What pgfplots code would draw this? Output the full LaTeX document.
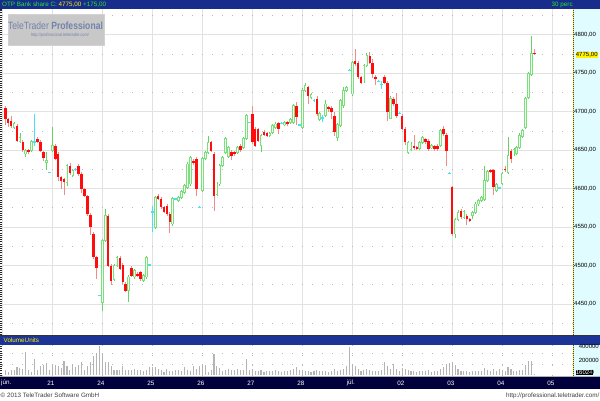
\documentclass[border=0pt]{standalone}
\usepackage{pgfplots}
\pgfplotsset{compat=1.18}
\usepackage{pgfplotstable}
\usepackage{fontspec}
\setmainfont{Liberation Sans}
\newcommand{\sm}{\fontsize{6.3}{7}\selectfont}
\newcommand{\tk}{\fontsize{6.0}{7}\selectfont}
\definecolor{tbar}{RGB}{24,44,140}
\definecolor{vbar}{RGB}{28,52,150}
\definecolor{dbar}{RGB}{0,0,60}
\definecolor{rbg}{RGB}{224,252,255}
\definecolor{candred}{RGB}{255,12,12}
\definecolor{wickred}{RGB}{240,140,140}
\definecolor{candgreen}{RGB}{125,222,125}
\definecolor{wickgreen}{RGB}{100,210,100}
\definecolor{ginner}{RGB}{240,255,240}
\definecolor{doji}{RGB}{70,225,245}
\definecolor{ttgreen}{RGB}{40,235,40}
\definecolor{wmfill}{RGB}{200,200,200}
\definecolor{wmtext}{RGB}{115,130,170}
\definecolor{gridc}{RGB}{226,226,226}
\definecolor{volc}{RGB}{180,180,180}

\pgfplotsset{candle/.style={draw=none, mark=none, forget plot,
  error bars/.cd, y dir=both, y explicit, error mark=none}}

\pgfplotstableread{
k o h l c
1 4705 4707 4683 4690
2 4690 4692 4680 4685
3 4688 4694 4679 4681
5 4682 4684 4660 4662
7 4661 4663 4648 4650
9 4650 4652 4645 4648
12 4665 4667 4659 4661
13 4661 4663 4647 4649
14 4647 4649 4636 4640
18 4656 4658 4637 4639
19 4645 4647 4610 4615
20 4615 4617 4600 4610
21 4612 4614 4592 4609
23 4630 4633 4618 4620
26 4630 4632 4617 4619
27 4619 4621 4594 4599
28 4599 4601 4589 4591
29 4590 4592 4565 4567
30 4566 4568 4540 4550
31 4541 4543 4509 4511
32 4511 4513 4482 4497
36 4565 4567 4498 4500
37 4500 4502 4475 4480
40 4510 4512 4494 4496
41 4501 4503 4476 4478
42 4476 4478 4465 4467
44 4497 4499 4485 4487
46 4489 4491 4485 4487
47 4491 4493 4480 4482
53 4591 4593 4585 4587
54 4587 4589 4574 4576
55 4576 4578 4568 4570
56 4578 4580 4565 4567
57 4567 4569 4542 4556
65 4636 4638 4631 4633
66 4639 4641 4590 4600
71 4660 4662 4647 4649
72 4645 4647 4571 4591
78 4648 4650 4637 4642
79 4647 4649 4643 4645
81 4656 4658 4648 4650
85 4697 4708 4658 4660
86 4678 4680 4654 4656
87 4677 4679 4660 4662
89 4674 4676 4668 4670
90 4672 4674 4667 4669
94 4685 4687 4671 4678
97 4686 4688 4682 4684
100 4708 4713 4683 4693
104 4732 4734 4710 4721
107 4717 4720 4694 4697
111 4706 4708 4700 4703
112 4705 4708 4690 4700
113 4695 4700 4668 4673
120 4766 4781 4760 4762
121 4764 4766 4742 4745
122 4745 4747 4736 4738
125 4773 4778 4762 4764
126 4764 4768 4744 4749
127 4745 4748 4735 4742
130 4745 4748 4736 4738
131 4738 4740 4688 4699
133 4717 4719 4708 4710
134 4710 4725 4692 4695
136 4695 4697 4676 4678
137 4678 4680 4657 4660
140 4656 4670 4650 4653
141 4654 4656 4650 4652
144 4664 4666 4658 4660
145 4662 4664 4649 4651
147 4655 4657 4649 4651
148 4656 4658 4649 4651
150 4677 4681 4669 4671
151 4670 4672 4630 4649
153 4602 4603 4538 4541
156 4571 4574 4561 4563
158 4565 4567 4553 4560
159 4560 4562 4556 4558
166 4624 4626 4620 4622
167 4624 4626 4592 4602
171 4626 4630 4622 4624
173 4649 4651 4633 4639
181 4777 4781 4774 4775
}\redtab

\pgfplotstableread{
k o h l c
4 4680 4687 4678 4685
6 4661 4672 4659 4667
8 4645 4651 4641 4649
10 4649 4663 4647 4661
15 4634 4647 4624 4637
17 4649 4680 4647 4656
22 4608 4632 4604 4630
24 4617 4625 4615 4623
34 4452 4534 4441 4532
35 4532 4573 4530 4565
38 4482 4502 4480 4500
39 4500 4513 4498 4511
43 4467 4487 4452 4485
45 4485 4495 4483 4493
48 4480 4489 4478 4487
49 4485 4512 4483 4510
52 4550 4590 4548 4588
58 4554 4589 4552 4587
60 4585 4591 4583 4589
61 4588 4598 4586 4596
62 4595 4606 4593 4604
63 4602 4634 4600 4632
64 4606 4643 4604 4641
68 4597 4641 4595 4639
69 4639 4649 4637 4647
70 4647 4668 4645 4660
73 4592 4608 4590 4606
74 4606 4632 4604 4630
75 4630 4643 4628 4641
76 4647 4667 4645 4665
77 4642 4655 4640 4653
80 4647 4655 4645 4653
82 4654 4667 4652 4665
83 4665 4697 4663 4695
88 4656 4671 4648 4669
91 4669 4674 4667 4672
92 4673 4684 4671 4682
93 4680 4686 4678 4684
96 4683 4688 4681 4686
98 4686 4692 4684 4690
99 4686 4710 4684 4708
102 4680 4731 4677 4728
103 4728 4737 4726 4734
105 4719 4724 4716 4722
108 4690 4700 4688 4698
110 4695 4715 4693 4710
114 4667 4685 4662 4683
115 4682 4716 4680 4714
116 4708 4732 4705 4728
117 4728 4733 4726 4731
119 4723 4766 4720 4764
123 4740 4762 4738 4760
124 4760 4776 4758 4773
132 4691 4720 4690 4717
138 4647 4662 4645 4660
139 4651 4660 4649 4658
142 4652 4662 4650 4660
143 4660 4668 4658 4666
146 4653 4658 4651 4656
149 4656 4678 4654 4675
154 4541 4562 4536 4560
155 4560 4572 4558 4569
157 4562 4572 4560 4570
160 4565 4571 4560 4569
161 4569 4582 4567 4580
162 4580 4587 4578 4585
163 4585 4591 4583 4589
164 4586 4629 4584 4611
165 4610 4624 4608 4622
168 4598 4607 4596 4605
170 4607 4622 4605 4620
172 4621 4667 4619 4643
174 4645 4653 4643 4651
175 4646 4656 4644 4654
176 4654 4672 4652 4669
177 4668 4677 4666 4675
178 4680 4719 4678 4717
179 4718 4752 4716 4750
180 4749 4799 4747 4776
}\greentab

\pgfplotstableread{
k p h l
11 4661 4697 4655
16 4621 4622 4620
25 4625 4627 4623
33 4461 4462 4460
50 4501 4502 4500
51 4570 4578 4543
59 4587 4588 4586
67 4576 4577 4575
84 4686 4687 4685
95 4685 4686 4684
101 4683 4684 4682
106 4715 4717 4712
109 4692 4696 4686
118 4754 4755 4753
128 4740 4741 4739
129 4736 4740 4730
135 4698 4699 4697
152 4620 4621 4619
169 4601 4602 4600
}\dojitab

\pgfplotstableread{
k v
1 74
2 41
3 65
4 74
5 113
6 103
7 89
8 320
9 65
10 41
11 232
12 74
13 122
14 146
15 170
16 74
17 160
18 136
19 122
20 98
21 199
22 122
23 74
24 160
25 113
26 136
27 184
28 74
29 122
30 184
31 266
32 304
33 410
34 314
35 184
36 184
37 122
38 74
39 74
40 74
41 122
42 74
43 65
44 74
45 89
46 65
47 65
48 55
49 74
50 113
51 113
52 113
53 89
54 65
55 41
56 89
57 50
58 55
59 65
60 65
61 50
62 113
63 74
64 55
65 122
66 89
67 122
68 160
69 136
70 41
71 65
72 295
73 122
74 103
75 55
76 74
77 89
78 65
79 74
80 89
81 74
82 65
83 232
84 74
85 80
86 60
87 50
88 70
89 45
90 60
91 55
92 50
93 70
94 60
95 45
96 55
97 60
98 70
99 90
100 110
101 65
102 70
103 55
104 60
105 45
106 50
107 70
108 50
109 60
110 55
111 45
112 50
113 90
114 60
115 70
116 80
117 120
118 400
119 150
120 120
121 90
122 60
123 70
124 80
125 70
126 50
127 60
128 55
129 70
130 184
131 120
132 90
133 160
134 80
135 60
136 100
137 90
138 70
139 60
140 50
141 45
142 55
143 60
144 50
145 70
146 45
147 50
148 60
149 80
150 110
151 150
152 170
153 180
154 140
155 90
156 60
157 55
158 50
159 45
160 60
161 55
162 60
163 50
164 100
165 70
166 50
167 90
168 60
169 80
170 70
171 60
172 110
173 80
174 60
175 55
176 70
177 65
178 140
179 200
180 200
181 16.024
}\voltab

\begin{document}
\begin{tikzpicture}[x=1pt,y=1pt]
\useasboundingbox (0,0) rectangle (600,400);
\fill[white] (0,0) rectangle (600,400);
% title bar
\fill[tbar] (0,391) rectangle (600,400);
% right axis background, main pane
\fill[rbg] (573,65) rectangle (600,391);
% separator and volume header
\fill[black!80] (0,64) rectangle (600,65.3);
\fill[vbar] (0,55) rectangle (600,64);
% right axis background, volume pane
\fill[rbg] (573,24.3) rectangle (600,55);
% date bar
\fill[gray!60] (0,23.3) rectangle (600,24.3);
\fill[dbar] (0,10.7) rectangle (600,23.3);

% ---------------- main price pane ----------------
\begin{axis}[
  at={(2pt,391pt)}, anchor=north west,
  width=571pt, height=325.7pt, scale only axis,
  xmin=-0.1, xmax=194.1, ymin=4410, ymax=4833.6,
  axis line style={draw=none},
  xtick={0,17,...,187}, xticklabels={},
  ytick={4450,4500,...,4800},
  minor ytick={4425,4475,...,4825},
  major tick length=0pt, minor tick length=0pt,
  xmajorgrids, ymajorgrids, yminorgrids,
  major grid style={draw=gridc, line width=0.8pt},
  minor grid style={draw=gray!55, line width=0.7pt, dash pattern=on 1pt off 9pt},
  yticklabel pos=right,
  yticklabel style={anchor=west, inner sep=0pt, xshift=1pt, font=\tk},
  /pgf/number format/assume math mode=true,
  yticklabel={\pgfmathprintnumber[fixed, fixed zerofill, precision=2, use comma, 1000 sep={}]{\tick}},
]
% wicks
\addplot[candle, error bar style={draw=wickred, line width=0.8pt}]
  table[x=k, y expr={(\thisrow{h}+\thisrow{l})/2}, y error expr={(\thisrow{h}-\thisrow{l})/2}] {\redtab};
\addplot[candle, error bar style={draw=wickgreen, line width=0.8pt}]
  table[x=k, y expr={(\thisrow{h}+\thisrow{l})/2}, y error expr={(\thisrow{h}-\thisrow{l})/2}] {\greentab};
\addplot[candle, error bar style={draw=doji, line width=0.8pt}]
  table[x=k, y expr={(\thisrow{h}+\thisrow{l})/2}, y error expr={(\thisrow{h}-\thisrow{l})/2}] {\dojitab};
% bodies
\addplot[candle, error bar style={draw=candred, line width=2.6pt}]
  table[x=k, y expr={(\thisrow{o}+\thisrow{c})/2}, y error expr={max(abs(\thisrow{o}-\thisrow{c})/2,0.8)}] {\redtab};
\addplot[candle, error bar style={draw=candgreen, line width=2.7pt}]
  table[x=k, y expr={(\thisrow{o}+\thisrow{c})/2}, y error expr={abs(\thisrow{o}-\thisrow{c})/2+0.6}] {\greentab};
\addplot[candle, error bar style={draw=ginner, line width=1.0pt}]
  table[x=k, y expr={(\thisrow{o}+\thisrow{c})/2}, y error expr={max(abs(\thisrow{o}-\thisrow{c})/2-0.6,0)}] {\greentab};
\addplot[candle, error bar style={draw=doji, line width=2.7pt}]
  table[x=k, y=p, y error expr={0.6}] {\dojitab};
\end{axis}

% ---------------- volume pane ----------------
\begin{axis}[
  at={(2pt,55pt)}, anchor=north west,
  width=571pt, height=30.7pt, scale only axis,
  xmin=-0.1, xmax=194.1, ymin=-12000, ymax=424000,
  axis line style={draw=none},
  xtick={0,17,...,187}, xticklabels={},
  ytick={150000,300000}, yticklabels={}, scaled y ticks=false,
  major tick length=0pt,
  xmajorgrids, ymajorgrids,
  major grid style={draw=gray!55, line width=0.7pt, dash pattern=on 1pt off 9pt},
]
\addplot[candle, error bar style={draw=volc, line width=1.1pt}]
  table[x=k, y expr={\thisrow{v}*500}, y error expr={\thisrow{v}*500}] {\voltab};
\end{axis}

% left rulers and right dotted border
\draw[black!85, line width=1.6pt, dash pattern=on 1pt off 1.2pt] (0.8,65.3) -- (0.8,391);
\draw[black!85, line width=1.6pt, dash pattern=on 1pt off 1.2pt] (0.8,24.3) -- (0.8,55);
\draw[black!70, line width=1pt, dash pattern=on 1pt off 1pt] (573.8,65.3) -- (573.8,391);
\draw[yellow!85!orange, line width=1pt, dash pattern=on 1pt off 1pt, dash phase=1pt] (573.8,65.3) -- (573.8,391);
\draw[black!70, line width=1pt, dash pattern=on 1pt off 1pt] (573.8,24.3) -- (573.8,55);
\draw[yellow!85!orange, line width=1pt, dash pattern=on 1pt off 1pt, dash phase=1pt] (573.8,24.3) -- (573.8,55);

% watermark box
\node[fill=wmfill, draw=gray!35, minimum width=96pt, minimum height=31pt, inner sep=0pt] at (55.7,370) {};
\node[text=wmtext, inner sep=0pt, xscale=0.82, transform shape] at (55.5,374)
  {\fontsize{10.5}{11}\selectfont TeleTrader \textbf{Professional}};
\node[text=wmtext, inner sep=0pt, xscale=0.85, transform shape] at (60,364.5)
  {\fontsize{4.6}{5}\selectfont\itshape http://professional.teletrader.com/};

% current price label
\node[fill=yellow, text=black, inner sep=0.4pt, anchor=west] at (575.3,345) {\tk 4775,00};

% title bar texts
\node[anchor=base west, inner sep=0pt] at (2,393)
  {\sm\textcolor{ttgreen}{OTP Bank share C: }\textcolor{yellow}{4775,00} \textcolor{ttgreen}{+175,00}};
\node[anchor=base west, inner sep=0pt, text=ttgreen] at (551.5,393) {\sm 30 perc};

% volume header
\node[anchor=base west, inner sep=0pt, text=yellow] at (3.5,57.3) {\sm VolumeUnits};

% volume scale labels
\node[anchor=east, inner sep=0pt] at (599,53.3) {\tk 400000};
\node[anchor=east, inner sep=0pt] at (599,39.4) {\tk 200000};
\node[anchor=west, fill=black, text=white, inner sep=0.4pt] at (575.3,27.8) {\tk 16024};
\node[anchor=west, inner sep=0pt] at (590.5,27.8) {\tk 0};

% date labels
\node[anchor=west, inner sep=0pt, text=white] at (1,17) {\sm jún.};
\foreach \xx/\lab in {52.3/21,102.3/24,152.3/25,202.3/26,252.3/27,302.3/28,352.3/júl.,402.3/02,452.3/03,502.3/04,552.3/05}
  \node[inner sep=0pt, text=white] at (\xx-1.5,17) {\sm \lab};

% footer
\node[anchor=base west, inner sep=0pt, text=black!75] at (0.5,2.5) {\sm \textcopyright\ 2013 TeleTrader Software GmbH};
\node[anchor=base east, inner sep=0pt, text=black!75] at (599.5,2.5) {\sm http://professional.teletrader.com/};
\end{tikzpicture}
\end{document}
